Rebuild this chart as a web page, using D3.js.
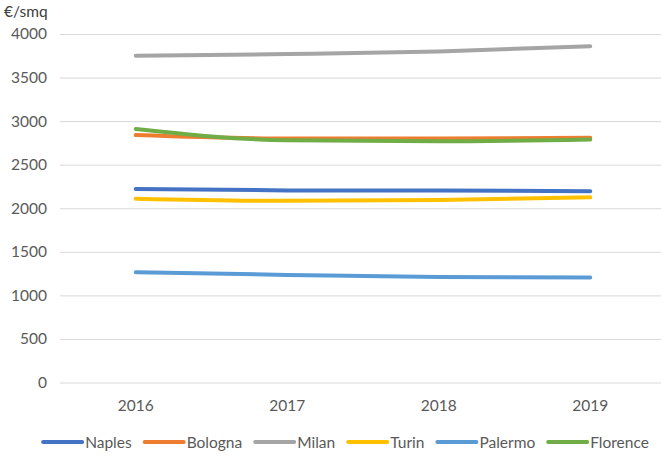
<!DOCTYPE html>
<html>
<head>
<meta charset="utf-8">
<script src="https://cdn.jsdelivr.net/npm/d3@7"></script>
<style>
  html, body { margin: 0; padding: 0; background: #fff; }
  svg { display: block; font-family: Lato, "Open Sans", sans-serif; }
</style>
</head>
<body>
<svg id="chart" width="661" height="456"></svg>
<script>
// Average price per square metre, by city and year
const years = ["2016", "2017", "2018", "2019"];
const naples   = [2220, 2205, 2205, 2195];
const bologna  = [2840, 2800, 2800, 2810];
const milan    = [3750, 3770, 3800, 3860];
const turin    = [2110, 2085, 2095, 2125];
const palermo  = [1265, 1235, 1210, 1205];
const florence = [2910, 2780, 2770, 2790];
const yTicks = [0, 500, 1000, 1500, 2000, 2500, 3000, 3500, 4000];
const unitLabel = "€/smq";

const series = [
  { name: "Naples",   values: naples,   color: "#4472C4" },
  { name: "Bologna",  values: bologna,  color: "#ED7D31" },
  { name: "Milan",    values: milan,    color: "#A5A5A5" },
  { name: "Turin",    values: turin,    color: "#FFC000" },
  { name: "Palermo",  values: palermo,  color: "#5B9BD5" },
  { name: "Florence", values: florence, color: "#70AD47" }
];

const svg = d3.select("#chart");
const plot = { left: 60, right: 666, top: 34, bottom: 382.5 };

const x = d3.scaleBand().domain(years).range([plot.left, plot.right]);
const y = d3.scaleLinear().domain([0, 4000]).range([plot.bottom, plot.top]);

// Horizontal gridlines with tick labels
const yAxis = svg.append("g")
  .attr("transform", `translate(${plot.left},0)`)
  .call(d3.axisLeft(y).tickValues(yTicks).tickSize(-(plot.right - plot.left)).tickPadding(13).tickFormat(d3.format("d")));
yAxis.select(".domain").remove();
yAxis.selectAll(".tick line").attr("stroke", "#d9d9d9").attr("stroke-width", 1);
yAxis.selectAll(".tick text").attr("fill", "#595959").attr("font-size", 15.5).attr("font-family", "Lato, 'Open Sans', sans-serif");

// Category axis labels
const xAxis = svg.append("g")
  .attr("transform", `translate(0,${plot.bottom})`)
  .call(d3.axisBottom(x).tickSize(0).tickPadding(17));
xAxis.select(".domain").remove();
xAxis.selectAll(".tick text").attr("fill", "#595959").attr("font-size", 15.5).attr("font-family", "Lato, 'Open Sans', sans-serif");

// Unit label
svg.append("text")
  .attr("x", 4).attr("y", 17)
  .attr("fill", "#404040").attr("font-size", 15.5)
  .text(unitLabel);

// Lines
const line = d3.line()
  .x((d, i) => x(years[i]) + x.bandwidth() / 2)
  .y(d => y(d))
  .curve(d3.curveMonotoneX);

svg.append("g").selectAll("path")
  .data(series)
  .join("path")
  .attr("d", d => line(d.values))
  .attr("fill", "none")
  .attr("stroke", d => d.color)
  .attr("stroke-width", 4)
  .attr("stroke-linecap", "round")
  .attr("stroke-linejoin", "round");

// Legend
const legend = svg.append("g");
const swatch = 39, gapText = 3, gapItem = 13;
let cursor = 0;
const items = legend.selectAll("g")
  .data(series)
  .join("g");
items.append("line")
  .attr("x1", 0).attr("x2", swatch)
  .attr("y1", 0).attr("y2", 0)
  .attr("stroke", d => d.color)
  .attr("stroke-width", 4)
  .attr("stroke-linecap", "round");
items.append("text")
  .attr("x", swatch + gapText).attr("y", 5.5)
  .attr("fill", "#595959").attr("font-size", 15.5)
  .text(d => d.name);
items.each(function() {
  const w = d3.select(this).select("text").node().getComputedTextLength();
  d3.select(this).attr("transform", `translate(${cursor},0)`);
  cursor += swatch + gapText + w + gapItem;
});
const total = cursor - gapItem;
legend.attr("transform", `translate(${346 - total / 2},442)`);
</script>
</body>
</html>
